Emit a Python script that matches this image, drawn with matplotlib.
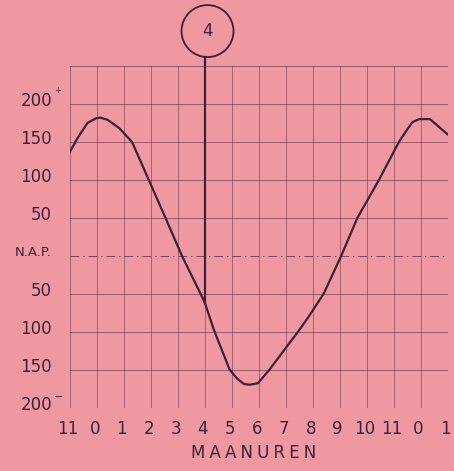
import matplotlib.pyplot as plt
from matplotlib.patches import Circle
from matplotlib.transforms import ScaledTranslation

# moon hours (x) and water level in cm relative to N.A.P. (y)
hours = [-1, -0.72, -0.35, -0.04, 0.12, 0.4, 0.83, 1.3, 1.92, 2.54, 3.15, 3.84,
         4.0, 4.36, 4.92, 5.2, 5.45, 5.66, 5.97, 6.4, 7.46, 7.78, 8.41, 9.06,
         9.66, 10.46, 11.2, 11.46, 11.7, 11.95, 12.35, 13]
level = [137, 155, 175, 181, 182, 179, 168, 150, 100, 50, 0, -50,
         -62, -100, -150, -162, -169, -170, -168, -150, -100, -84, -50, 0,
         50, 100, 150, 164, 176, 180, 180, 160]

hour_ticks = list(range(-1, 14))
hour_labels = ["11", "0", "1", "2", "3", "4", "5", "6", "7", "8", "9", "10", "11", "0", "1"]
level_ticks = [200, 150, 100, 50, 0, -50, -100, -150, -200]
level_labels = ["200", "150", "100", "50", "N.A.P.", "50", "100", "150", "200"]

marked_hour = 4
marked_level = -62

bg = "#f098a2"
ink = "#3d1f34"
grid_c = "#5a3045"

fig = plt.figure(figsize=(4.54, 4.71), dpi=100, facecolor=bg)
ax = fig.add_axes([70 / 454, 1 - 407.5 / 471, 377.5 / 454, 341.5 / 471])
ax.set_facecolor(bg)

ax.set_xlim(-1, 13)
ax.set_ylim(-200, 250)

# grid
for h in hour_ticks:
    ax.axvline(h, color=grid_c, lw=0.6, alpha=0.6, zorder=1)
for v in level_ticks + [250]:
    if v == 0:
        ax.axhline(v, color=grid_c, lw=0.7, alpha=0.8, ls=(0, (9, 4, 1.5, 4)), zorder=1)
    else:
        ax.axhline(v, color=grid_c, lw=0.7, alpha=0.6, zorder=1)

for s in ax.spines.values():
    s.set_visible(False)

ax.plot(hours, level, color=ink, lw=1.6, zorder=3)

# marker line to the circled "4"
ax.plot([marked_hour, marked_hour], [marked_level, 262], color=ink, lw=1.6,
        clip_on=False, zorder=3)
circle_tr = fig.dpi_scale_trans + ScaledTranslation(marked_hour + 0.1, 296, ax.transData)
fig.add_artist(Circle((0, 0), 0.26, transform=circle_tr, fill=False,
                      edgecolor=ink, lw=1.3))
ax.text(marked_hour + 0.1, 296, "4", ha="center", va="center", fontsize=12,
        color=ink, clip_on=False)

ax.set_xticks(hour_ticks)
ax.set_xticklabels(hour_labels)
ax.set_yticks(level_ticks)
ax.set_yticklabels(level_labels)
ax.tick_params(axis="both", length=0, labelsize=12, labelcolor=ink)
ax.tick_params(axis="y", pad=13)
ax.tick_params(axis="x", pad=9)

# small hand-lettering offsets
for lab in ax.get_yticklabels():
    lab.set_transform(lab.get_transform() + ScaledTranslation(0, 0.05, fig.dpi_scale_trans))
    if lab.get_text() == "N.A.P.":
        lab.set_fontsize(9.5)
for lab in ax.get_xticklabels():
    lab.set_transform(lab.get_transform() + ScaledTranslation(-0.02, 0, fig.dpi_scale_trans))

# superscript signs next to 200
ax.text(-1.46, 212, "+", fontsize=6, color=ink, ha="center", va="bottom", clip_on=False)
ax.text(-1.42, -193, "\u2212", fontsize=8, color=ink, ha="center", va="bottom", clip_on=False)

ax.set_xlabel("M\u2005A\u2005A\u2005N\u2005U\u2005R\u2005E\u2005N", fontsize=12, color=ink, labelpad=5)
ax.xaxis.set_label_coords(0.487, -0.108)

plt.savefig("out.png", dpi=100, facecolor=bg)
